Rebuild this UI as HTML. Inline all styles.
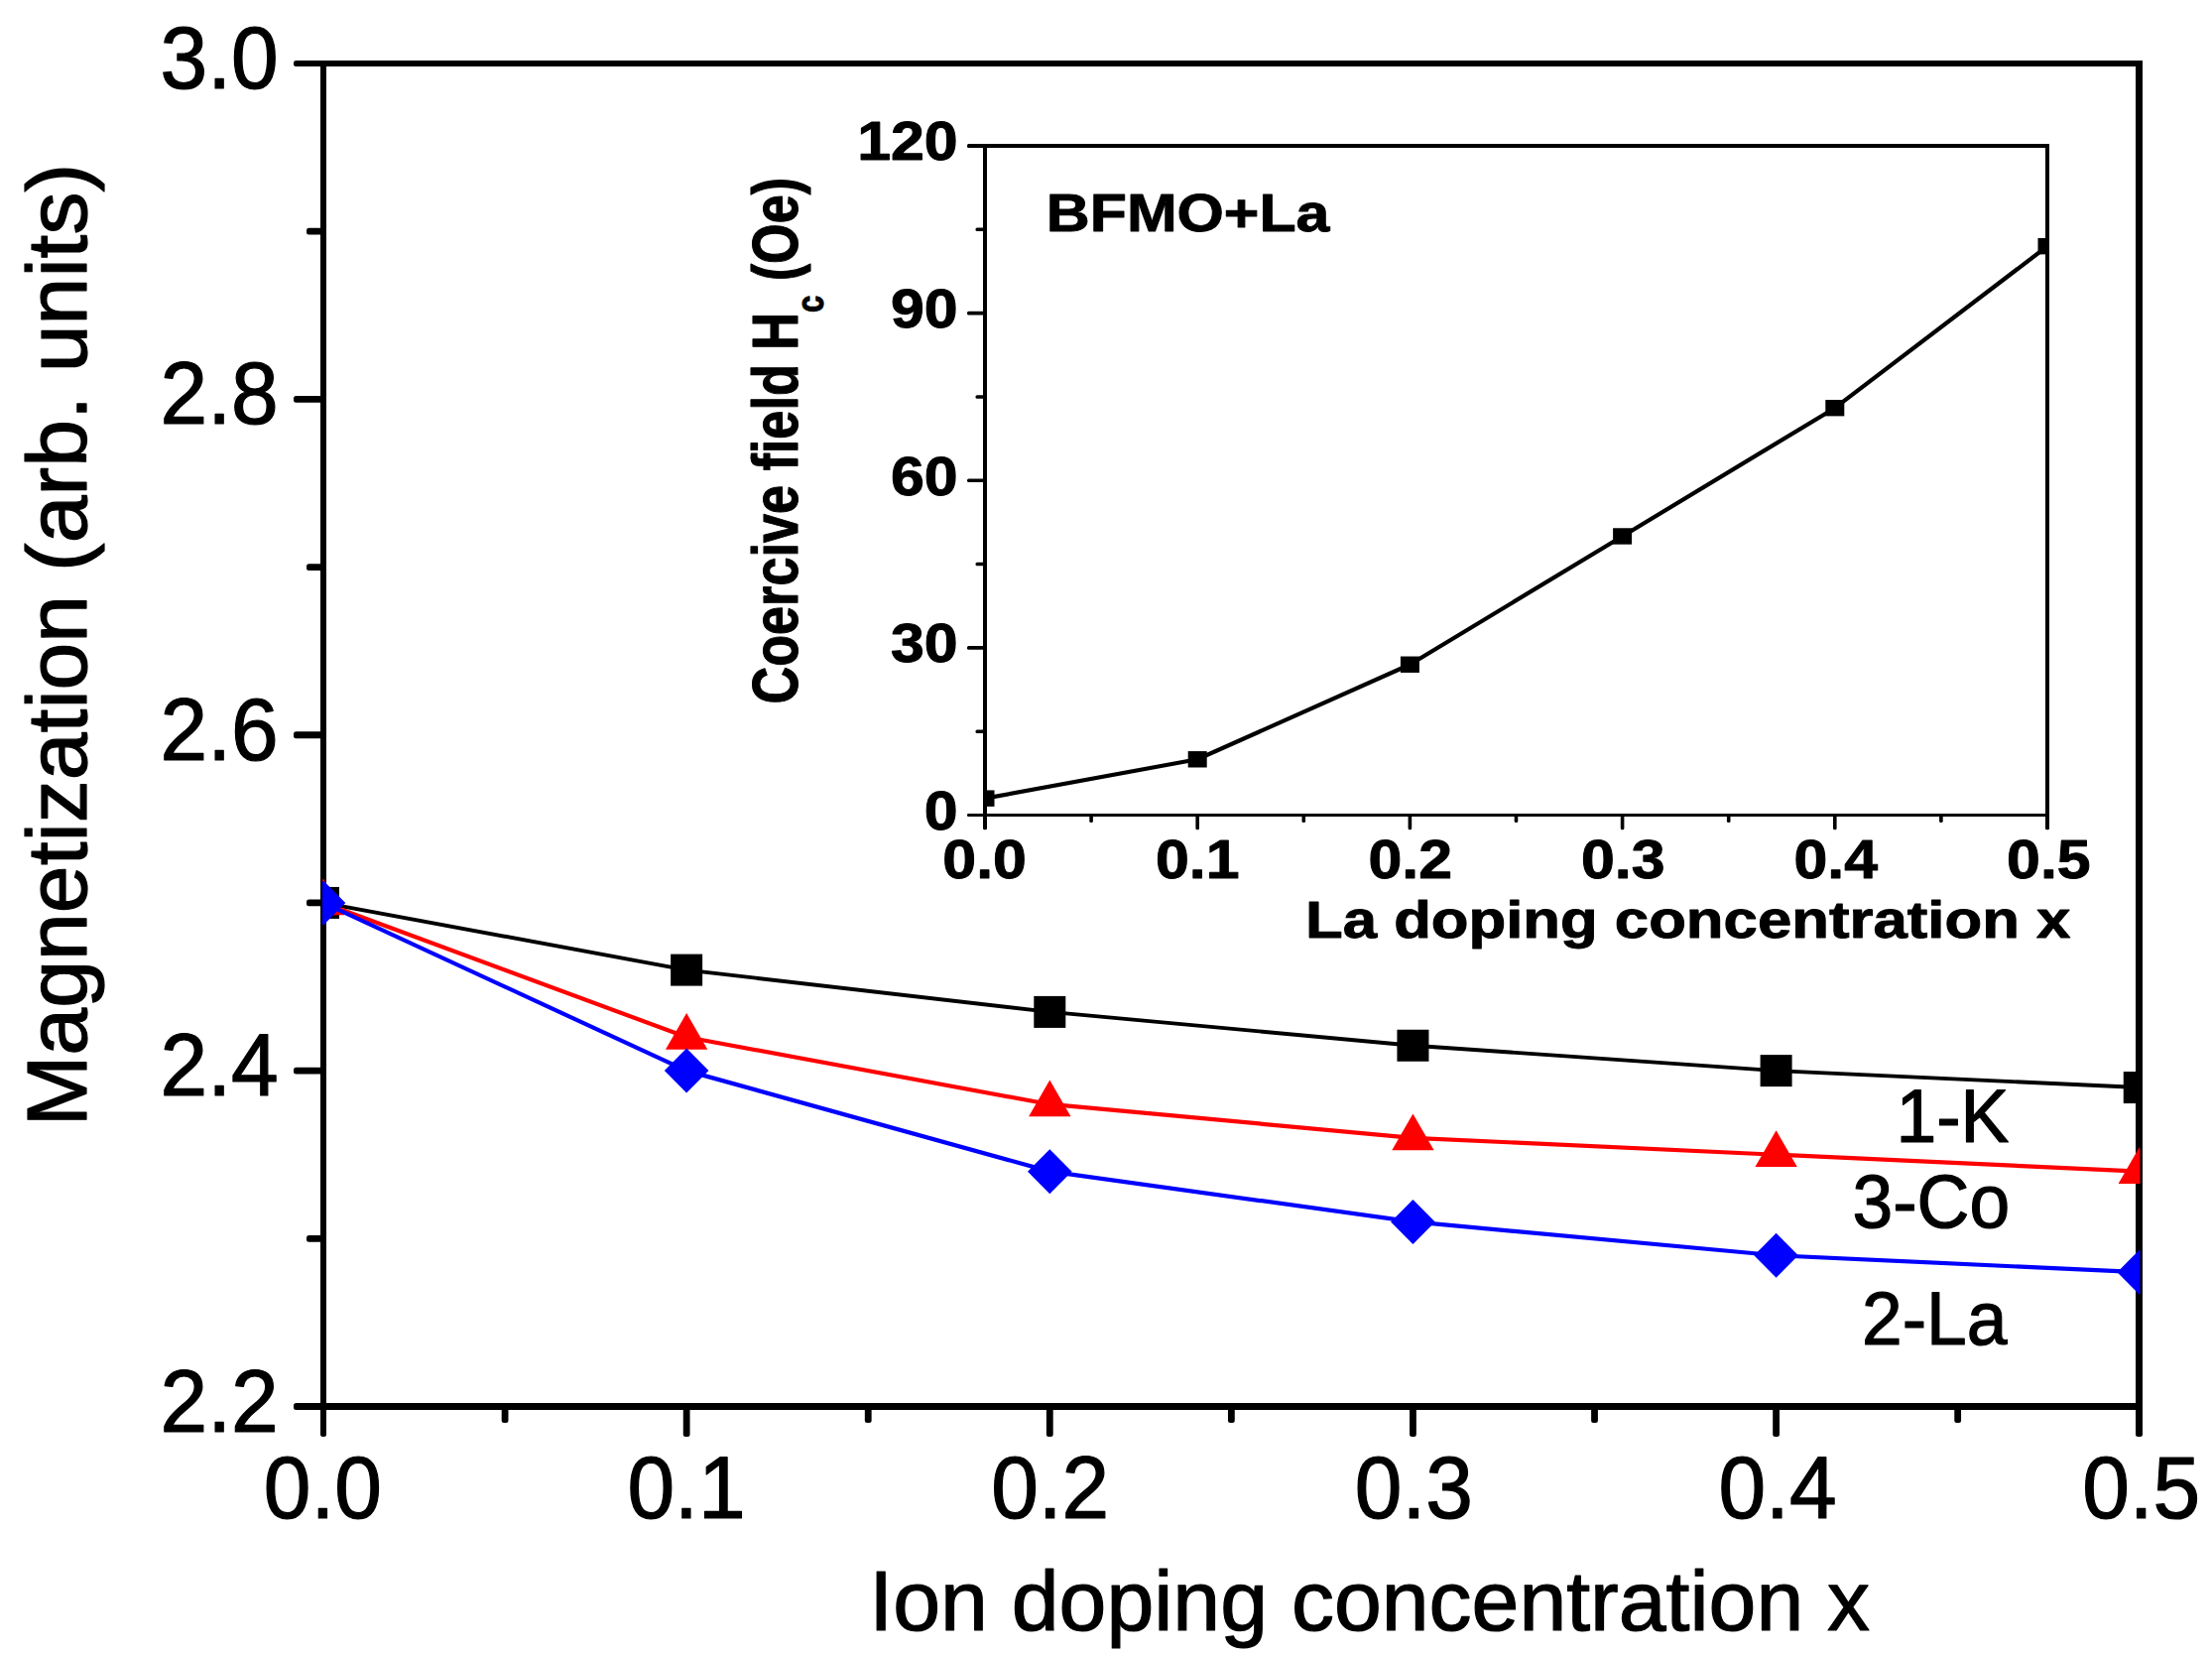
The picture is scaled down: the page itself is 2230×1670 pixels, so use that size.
<!DOCTYPE html>
<html lang="en"><head><meta charset="utf-8"><title>Magnetization vs ion doping concentration</title>
<style>
html,body{margin:0;padding:0;background:#fff;}
body{width:2230px;height:1670px;overflow:hidden;}
svg{display:block;}
text{font-family:"Liberation Sans",Arial,Helvetica,sans-serif;fill:#000;stroke:#000;stroke-width:1.2px;stroke-linejoin:round;}
.t{font-size:85.7px;}
.tt{font-size:86px;}
.l{font-size:73.2px;}
.b{font-weight:bold;font-size:52px;stroke-width:0.9px;}
</style></head><body>
<svg width="2230" height="1670" viewBox="0 0 2230 1670">
<rect x="0" y="0" width="2230" height="1670" fill="#fff"/>
<g fill="#000" shape-rendering="crispEdges">
<rect x="323" y="61" width="6" height="1360"/>
<rect x="2153" y="61" width="7" height="1360"/>
<rect x="323" y="61" width="1837" height="6"/>
<rect x="323" y="1414" width="1837" height="7"/>
</g>
<g fill="#000">
<rect x="296" y="1414" width="32" height="7" rx="2.5"/>
<rect x="309.0" y="1244.91" width="19.0" height="6.8" rx="2.5"/>
<rect x="296.0" y="1075.72" width="32.0" height="6.8" rx="2.5"/>
<rect x="309.0" y="906.54" width="19.0" height="6.8" rx="2.5"/>
<rect x="296.0" y="737.35" width="32.0" height="6.8" rx="2.5"/>
<rect x="309.0" y="568.16" width="19.0" height="6.8" rx="2.5"/>
<rect x="296.0" y="398.97" width="32.0" height="6.8" rx="2.5"/>
<rect x="309.0" y="229.79" width="19.0" height="6.8" rx="2.5"/>
<rect x="296" y="61" width="32" height="6" rx="2.5"/>
<rect x="323" y="1416" width="6" height="32" rx="2.5"/>
<rect x="505.68" y="1416" width="6.8" height="18.0" rx="2.5"/>
<rect x="688.75" y="1416" width="6.8" height="32.0" rx="2.5"/>
<rect x="871.83" y="1416" width="6.8" height="18.0" rx="2.5"/>
<rect x="1054.90" y="1416" width="6.8" height="32.0" rx="2.5"/>
<rect x="1237.97" y="1416" width="6.8" height="18.0" rx="2.5"/>
<rect x="1421.05" y="1416" width="6.8" height="32.0" rx="2.5"/>
<rect x="1604.12" y="1416" width="6.8" height="18.0" rx="2.5"/>
<rect x="1787.20" y="1416" width="6.8" height="32.0" rx="2.5"/>
<rect x="1970.27" y="1416" width="6.8" height="18.0" rx="2.5"/>
<rect x="2153" y="1416" width="7" height="32" rx="2.5"/>
</g>
<text class="t" text-anchor="end" transform="translate(280.6 89.0) scale(1 1.037)">3.0</text>
<text class="t" text-anchor="end" transform="translate(280.6 427.4) scale(1 1.037)">2.8</text>
<text class="t" text-anchor="end" transform="translate(280.6 765.7) scale(1 1.037)">2.6</text>
<text class="t" text-anchor="end" transform="translate(280.6 1104.1) scale(1 1.037)">2.4</text>
<text class="t" text-anchor="end" transform="translate(280.6 1442.5) scale(1 1.037)">2.2</text>
<text class="t" text-anchor="middle" transform="translate(325.4 1530.3) scale(1 1.037)">0.0</text>
<text class="t" text-anchor="middle" transform="translate(692.0 1530.3) scale(1 1.037)">0.1</text>
<text class="t" text-anchor="middle" transform="translate(1058.7 1530.3) scale(1 1.037)">0.2</text>
<text class="t" text-anchor="middle" transform="translate(1425.3 1530.3) scale(1 1.037)">0.3</text>
<text class="t" text-anchor="middle" transform="translate(1792.0 1530.3) scale(1 1.037)">0.4</text>
<text class="t" text-anchor="middle" transform="translate(2158.7 1530.3) scale(1 1.037)">0.5</text>
<text class="tt" x="876.3" y="1643">Ion doping concentration x</text>
<text class="tt" transform="translate(87.3 1135.3) rotate(-90)">Magnetization (arb. units)</text>
<defs><clipPath id="cm"><rect x="325" y="61" width="1832.5" height="1360"/></clipPath>
<clipPath id="ci"><rect x="992.5" y="145.0" width="1072.5" height="678.5"/></clipPath></defs>
<g clip-path="url(#cm)">
<polyline points="326.00,909.94 692.15,977.61 1058.30,1019.91 1424.45,1053.75 1790.60,1079.12 2156.75,1096.04" fill="none" stroke="#000" stroke-width="3.9" stroke-linejoin="round"/>
<rect x="310.00" y="893.94" width="32" height="32" fill="#000"/>
<rect x="676.15" y="961.61" width="32" height="32" fill="#000"/>
<rect x="1042.30" y="1003.91" width="32" height="32" fill="#000"/>
<rect x="1408.45" y="1037.75" width="32" height="32" fill="#000"/>
<rect x="1774.60" y="1063.12" width="32" height="32" fill="#000"/>
<rect x="2140.75" y="1080.04" width="32" height="32" fill="#000"/>
<polyline points="326.00,909.94 692.15,1045.29 1058.30,1112.96 1424.45,1146.80 1790.60,1163.72 2156.75,1180.64" fill="none" stroke="#f00" stroke-width="4.2" stroke-linejoin="round"/>
<polygon points="326.00,885.54 347.20,922.34 304.80,922.34" fill="#f00"/>
<polygon points="692.15,1020.89 713.35,1057.69 670.95,1057.69" fill="#f00"/>
<polygon points="1058.30,1088.56 1079.50,1125.36 1037.10,1125.36" fill="#f00"/>
<polygon points="1424.45,1122.40 1445.65,1159.20 1403.25,1159.20" fill="#f00"/>
<polygon points="1790.60,1139.32 1811.80,1176.12 1769.40,1176.12" fill="#f00"/>
<polygon points="2156.75,1156.24 2177.95,1193.04 2135.55,1193.04" fill="#f00"/>
<polyline points="326.00,909.94 692.15,1079.12 1058.30,1180.64 1424.45,1231.39 1790.60,1265.23 2156.75,1282.15" fill="none" stroke="#00f" stroke-width="4.2" stroke-linejoin="round"/>
<polygon points="326.00,887.44 348.30,909.94 326.00,932.44 303.70,909.94" fill="#00f"/>
<polygon points="692.15,1056.62 714.45,1079.12 692.15,1101.62 669.85,1079.12" fill="#00f"/>
<polygon points="1058.30,1158.14 1080.60,1180.64 1058.30,1203.14 1036.00,1180.64" fill="#00f"/>
<polygon points="1424.45,1208.89 1446.75,1231.39 1424.45,1253.89 1402.15,1231.39" fill="#00f"/>
<polygon points="1790.60,1242.73 1812.90,1265.23 1790.60,1287.73 1768.30,1265.23" fill="#00f"/>
<polygon points="2156.75,1259.65 2179.05,1282.15 2156.75,1304.65 2134.45,1282.15" fill="#00f"/>
</g>
<text class="l" transform="translate(1911.5 1151) scale(1 1.037)">1-K</text>
<text class="l" transform="translate(1867.5 1236.8) scale(1 1.037)">3-Co</text>
<text class="l" transform="translate(1877 1355.3) scale(1 1.037)">2-La</text>
<g fill="#000" shape-rendering="crispEdges">
<rect x="991" y="145" width="4" height="678"/>
<rect x="2062" y="145" width="4" height="678"/>
<rect x="991" y="145" width="1075" height="4"/>
<rect x="991" y="820" width="1075" height="3"/>
</g>
<g fill="#000">
<rect x="975" y="820" width="19" height="3" rx="1.3"/>
<rect x="983.5" y="735.39" width="10.5" height="3.6" rx="1.5"/>
<rect x="975.0" y="651.08" width="19.0" height="3.6" rx="1.5"/>
<rect x="983.5" y="566.76" width="10.5" height="3.6" rx="1.5"/>
<rect x="975.0" y="482.45" width="19.0" height="3.6" rx="1.5"/>
<rect x="983.5" y="398.14" width="10.5" height="3.6" rx="1.5"/>
<rect x="975.0" y="313.82" width="19.0" height="3.6" rx="1.5"/>
<rect x="983.5" y="229.51" width="10.5" height="3.6" rx="1.5"/>
<rect x="975" y="145" width="19" height="4" rx="1.5"/>
<rect x="991" y="821" width="4" height="15.2" rx="1.5"/>
<rect x="1098.30" y="821" width="3.6" height="8.0" rx="1.5"/>
<rect x="1205.40" y="821" width="3.6" height="15.2" rx="1.5"/>
<rect x="1312.50" y="821" width="3.6" height="8.0" rx="1.5"/>
<rect x="1419.60" y="821" width="3.6" height="15.2" rx="1.5"/>
<rect x="1526.70" y="821" width="3.6" height="8.0" rx="1.5"/>
<rect x="1633.80" y="821" width="3.6" height="15.2" rx="1.5"/>
<rect x="1740.90" y="821" width="3.6" height="8.0" rx="1.5"/>
<rect x="1848.00" y="821" width="3.6" height="15.2" rx="1.5"/>
<rect x="1955.10" y="821" width="3.6" height="8.0" rx="1.5"/>
<rect x="2062" y="821" width="4" height="15.2" rx="1.5"/>
</g>
<text class="b" text-anchor="end" transform="translate(965.7 160.8) scale(1.170 1.050)">120</text>
<text class="b" text-anchor="end" transform="translate(965.7 329.7) scale(1.170 1.050)">90</text>
<text class="b" text-anchor="end" transform="translate(965.7 498.5) scale(1.170 1.050)">60</text>
<text class="b" text-anchor="end" transform="translate(965.7 667.3) scale(1.170 1.050)">30</text>
<text class="b" text-anchor="end" transform="translate(965.7 836.2) scale(1.170 1.050)">0</text>
<text class="b" text-anchor="middle" transform="translate(992.6 884.5) scale(1.170 1.050)">0.0</text>
<text class="b" text-anchor="middle" transform="translate(1207.2 884.5) scale(1.170 1.050)">0.1</text>
<text class="b" text-anchor="middle" transform="translate(1421.7 884.5) scale(1.170 1.050)">0.2</text>
<text class="b" text-anchor="middle" transform="translate(1636.3 884.5) scale(1.170 1.050)">0.3</text>
<text class="b" text-anchor="middle" transform="translate(1850.8 884.5) scale(1.170 1.050)">0.4</text>
<text class="b" text-anchor="middle" transform="translate(2065.4 884.5) scale(1.170 1.050)">0.5</text>
<text class="b" transform="translate(1316 945.3) scale(1.187 1)">La doping concentration x</text>
<text class="b" transform="translate(1054.8 232.8) scale(1.170 1.020)">BFMO+La</text>
<text class="b" style="font-size:52.2px" transform="translate(803.8 709.5) rotate(-90) scale(1 1.23)">Coercive field H<tspan dy="21.5" style="font-size:31px">c</tspan><tspan dy="-21.5"> (Oe)</tspan></text>
<g clip-path="url(#ci)">
<polyline points="993.00,804.64 1207.20,765.29 1421.40,669.74 1635.60,540.46 1849.80,411.18 2064.00,248.17" fill="none" stroke="#000" stroke-width="4.2" stroke-linejoin="round"/>
<rect x="983.50" y="796.44" width="19" height="16.4" fill="#000"/>
<rect x="1197.70" y="757.09" width="19" height="16.4" fill="#000"/>
<rect x="1411.90" y="661.54" width="19" height="16.4" fill="#000"/>
<rect x="1626.10" y="532.26" width="19" height="16.4" fill="#000"/>
<rect x="1840.30" y="402.98" width="19" height="16.4" fill="#000"/>
<rect x="2054.50" y="239.97" width="19" height="16.4" fill="#000"/>
</g>
</svg></body></html>
